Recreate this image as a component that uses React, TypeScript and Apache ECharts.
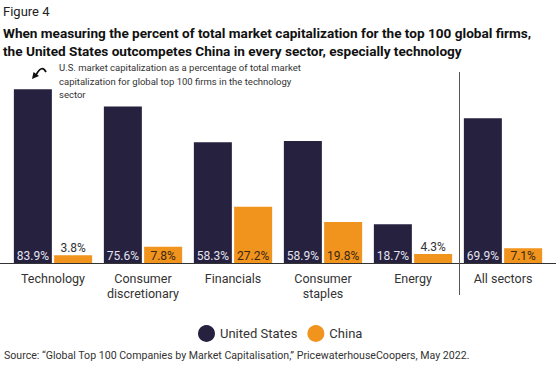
import React, { useEffect, useRef } from "react";
import * as echarts from "echarts";

const categories = [
  "Technology",
  "Consumer\ndiscretionary",
  "Financials",
  "Consumer\nstaples",
  "Energy",
  "All sectors",
];
const usValues = [83.9, 75.6, 58.3, 58.9, 18.7, 69.9];
const chinaValues = [3.8, 7.8, 27.2, 19.8, 4.3, 7.1];
const seriesNames = ["United States", "China"];

const US_COLOR = "#25213f";
const CN_COLOR = "#f0941d";
const FONT = "Roboto";

export default function App() {
  const ref = useRef<HTMLDivElement>(null);
  useEffect(() => {
    if (!ref.current) return;
    const chart = echarts.init(ref.current, null, { renderer: "svg" });
    const option: any = {
      animation: false,
      textStyle: { fontFamily: FONT },
      grid: { left: 8, width: 540, top: 56, height: 207 },
      xAxis: {
        type: "category",
        data: categories,
        axisLine: { show: false },
        axisTick: { show: false },
        axisLabel: {
          interval: 0,
          color: "#333",
          fontSize: 12.5,
          lineHeight: 15,
          margin: 8,
          fontFamily: FONT,
        },
      },
      yAxis: {
        type: "value",
        min: 0,
        max: 100,
        show: false,
        splitLine: { show: false },
      },
      legend: {
        data: seriesNames,
        left: 193,
        top: 320,
        icon: "circle",
        itemWidth: 17,
        itemHeight: 17,
        itemGap: 10,
        textStyle: { color: "#333", fontSize: 13, fontFamily: FONT },
      },
      series: [
        {
          name: seriesNames[0],
          type: "bar",
          data: usValues,
          barWidth: 38,
          barGap: "6%",
          itemStyle: { color: US_COLOR },
          label: {
            show: true,
            position: "insideBottom",
            distance: 1,
            color: "#e4e2ee",
            fontSize: 12,
            fontFamily: FONT,
            formatter: (p: any) => p.value.toFixed(1) + "%",
          },
        },
        {
          name: seriesNames[1],
          type: "bar",
          data: chinaValues.map((v) =>
            v < 5
              ? { value: v, label: { position: "top", distance: 1, color: "#333" } }
              : { value: v }
          ),
          barWidth: 38,
          itemStyle: { color: CN_COLOR },
          label: {
            show: true,
            position: "insideBottom",
            distance: 1,
            color: "#3a2614",
            fontSize: 12,
            fontFamily: FONT,
            formatter: (p: any) => p.value.toFixed(1) + "%",
          },
        },
      ],
      graphic: [
        {
          type: "text",
          left: 3,
          top: 5,
          style: { text: "Figure 4", fontSize: 13, fill: "#222", fontFamily: FONT },
        },
        {
          type: "text",
          left: 3,
          top: 24,
          style: {
            text:
              "When measuring the percent of total market capitalization for the top 100 global firms,\nthe United States outcompetes China in every sector, especially technology",
            fontSize: 13.6,
            lineHeight: 18,
            fontWeight: "bold",
            fill: "#111",
            fontFamily: FONT,
          },
        },
        {
          type: "text",
          left: 59,
          top: 61,
          style: {
            text:
              "U.S. market capitalization as a percentage of total market\ncapitalization for global top 100 firms in the technology\nsector",
            fontSize: 9.5,
            lineHeight: 13.5,
            fill: "#333",
            fontFamily: FONT,
          },
        },
        {
          type: "bezierCurve",
          shape: { x1: 46, y1: 72, x2: 36, y2: 75, cpx1: 42, cpy1: 64 },
          style: { stroke: "#111", lineWidth: 1.8, fill: null },
        },
        {
          type: "polygon",
          shape: { points: [[32, 79], [33.5, 72], [39, 76]] },
          style: { fill: "#111" },
        },
        {
          type: "line",
          shape: { x1: 0, y1: 263.5, x2: 556, y2: 263.5 },
          style: { stroke: "#333", lineWidth: 1 },
        },
        {
          type: "line",
          shape: { x1: 459.5, y1: 72, x2: 459.5, y2: 295 },
          style: { stroke: "#555", lineWidth: 1 },
        },
        {
          type: "text",
          left: 4,
          top: 350,
          style: {
            text:
              "Source: \u201cGlobal Top 100 Companies by Market Capitalisation,\u201d PricewaterhouseCoopers, May 2022.",
            fontSize: 10.6,
            fill: "#333",
            fontFamily: FONT,
          },
        },
      ],
    };
    chart.setOption(option);
    return () => chart.dispose();
  }, []);
  return (
    <div
      ref={ref}
      style={{ position: "fixed", left: 0, top: 0, width: 560, height: 378, background: "#fff" }}
    />
  );
}
